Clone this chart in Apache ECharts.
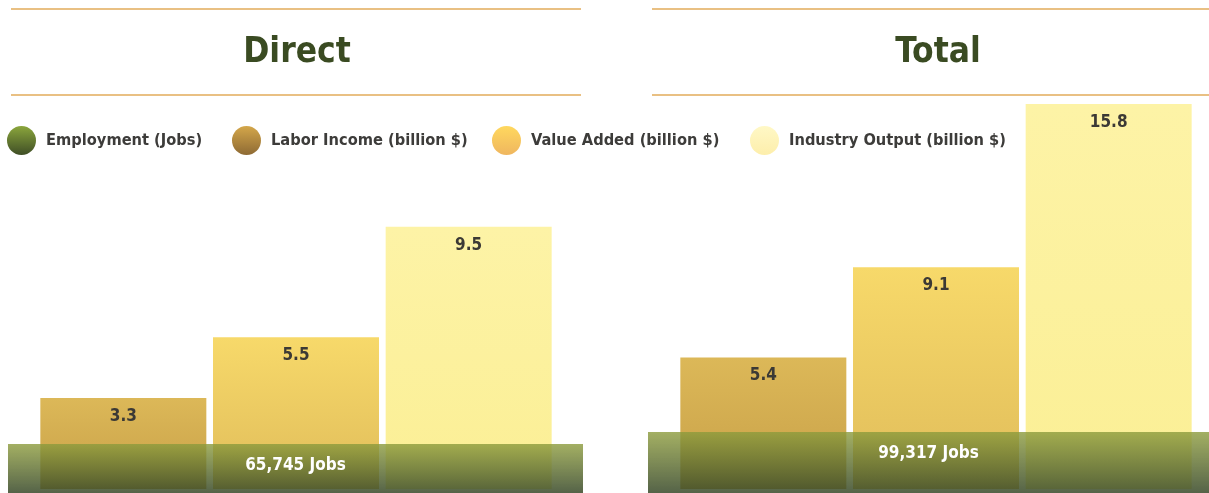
<!DOCTYPE html>
<html>
<head>
<meta charset="utf-8">
<script src="https://cdn.jsdelivr.net/npm/echarts@6/dist/echarts.min.js"></script>
<style>
  html, body { margin: 0; padding: 0; background: #fff; }
  #chart { width: 1209px; height: 493px; }
</style>
</head>
<body>
<div id="chart"></div>
<script>
// chart data
const panelTitles = ['Direct', 'Total'];
const measures = ['Labor Income (billion $)', 'Value Added (billion $)', 'Industry Output (billion $)'];
const employmentName = 'Employment (Jobs)';
const directValues = [3.3, 5.5, 9.5];
const totalValues = [5.4, 9.1, 15.8];
const directJobs = [65745];
const totalJobs = [99317];

const FONT = "'DejaVu Sans Condensed', 'Liberation Sans Narrow', sans-serif";

function grad(top, bottom) {
    return new echarts.graphic.LinearGradient(0, 0, 0, 1, [
        { offset: 0, color: top },
        { offset: 1, color: bottom }
    ]);
}

const barColors = [
    ['#dcb858', '#c8a048'],
    ['#f7d96a', '#e0bc5a'],
    ['#fdf3a6', '#fbef95']
];
const legendColors = [
    ['#8ba63c', '#3f4e26'],
    ['#d4a74a', '#8e6a34'],
    ['#ffd85e', '#efb65f'],
    ['#fff8c6', '#fdeeab']
];

const panels = [
    { values: directValues, jobs: directJobs, barLeft: 37, jobsLeft: 8, jobsWidth: 575, max: 10, barHeight: 276, jobsMax: 98000, center: 292 },
    { values: totalValues, jobs: totalJobs, barLeft: 677, jobsLeft: 648, jobsWidth: 561, max: 16, barHeight: 390, jobsMax: 119000, center: 933 }
];

const grids = [], xAxes = [], yAxes = [], series = [];

panels.forEach((p, i) => {
    const g = grids.length;
    grids.push({ left: p.barLeft, width: 518, top: 489 - p.barHeight, bottom: 4 });
    grids.push({ left: p.jobsLeft, width: p.jobsWidth, top: 420, bottom: 0 });

    xAxes.push({ gridIndex: g, type: 'category', data: measures, show: false });
    xAxes.push({ gridIndex: g + 1, type: 'category', data: [employmentName], show: false });
    yAxes.push({ gridIndex: g, type: 'value', min: 0, max: p.max, show: false });
    yAxes.push({ gridIndex: g + 1, type: 'value', min: 0, max: p.jobsMax, show: false });

    measures.forEach((m, j) => {
        series.push({
            name: m,
            type: 'bar',
            xAxisIndex: g,
            yAxisIndex: g,
            stack: 'panel' + i,
            barWidth: 166,
            data: p.values.map((v, k) => (k === j ? v : '-')),
            itemStyle: { color: grad(barColors[j][0], barColors[j][1]) },
            label: {
                show: true,
                position: 'insideTop',
                distance: 10,
                color: '#3b3935',
                fontFamily: FONT,
                fontWeight: 'bold',
                fontSize: 17
            },
            silent: true,
            z: 2
        });
    });

    series.push({
        name: employmentName,
        type: 'bar',
        xAxisIndex: g + 1,
        yAxisIndex: g + 1,
        barWidth: '100%',
        data: p.jobs,
        itemStyle: { color: grad('rgba(140,155,60,0.8)', 'rgba(55,72,40,0.85)') },
        label: {
            show: true,
            position: 'insideTop',
            distance: 13,
            color: '#ffffff',
            fontFamily: FONT,
            fontWeight: 'bold',
            fontSize: 17,
            formatter: (d) => d.value.toLocaleString('en-US') + ' Jobs'
        },
        silent: true,
        z: 5
    });
});

const legendNames = [employmentName].concat(measures);
const legendLefts = [7, 232, 492, 750];
const legends = legendNames.map((n, i) => ({
    left: legendLefts[i],
    top: 126,
    padding: 0,
    itemWidth: 29,
    itemHeight: 29,
    selectedMode: false,
    data: [{
        name: n,
        icon: 'circle',
        itemStyle: { color: grad(legendColors[i][0], legendColors[i][1]), opacity: 1, borderWidth: 0 }
    }],
    textStyle: {
        fontFamily: FONT,
        fontWeight: 'bold',
        fontSize: 16.3,
        color: '#3d3c3a',
        padding: [0, 0, 0, 5]
    }
}));

const titles = panels.map((p, i) => ({
    text: panelTitles[i],
    left: p.center,
    top: 26,
    textAlign: 'center',
    textStyle: {
        fontFamily: FONT,
        fontWeight: 'bold',
        fontSize: 35,
        lineHeight: 44,
        color: '#3a4b22'
    }
}));

const ruleLines = [];
[[11, 581], [652, 1209]].forEach(([x1, x2]) => {
    [9, 95].forEach((y) => {
        ruleLines.push({
            type: 'line',
            shape: { x1: x1, y1: y, x2: x2, y2: y },
            style: { stroke: '#e2ab5a', lineWidth: 1.5 },
            silent: true
        });
    });
});

const chart = echarts.init(document.getElementById('chart'));
chart.setOption({
    animation: false,
    title: titles,
    legend: legends,
    grid: grids,
    xAxis: xAxes,
    yAxis: yAxes,
    series: series,
    graphic: ruleLines
});
</script>
</body>
</html>
